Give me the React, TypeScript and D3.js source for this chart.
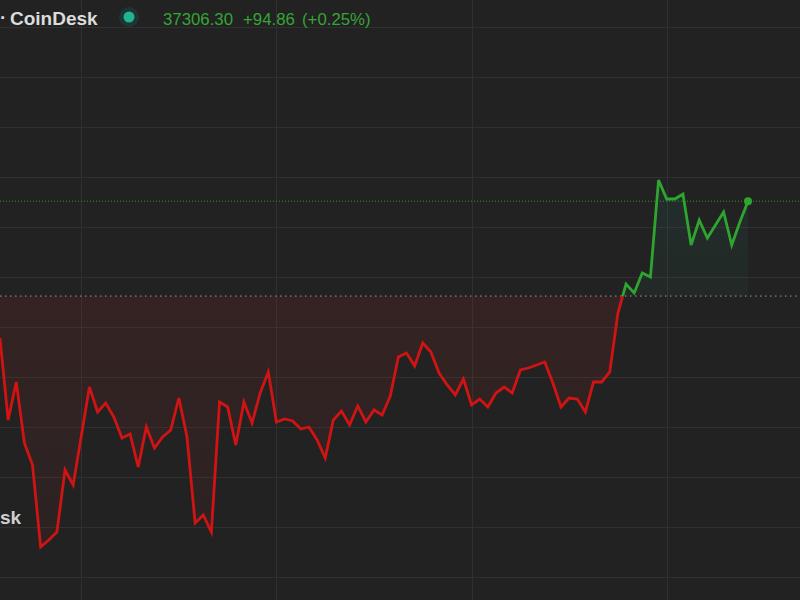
import React from "react";
import * as d3 from "d3";

const prices: number[] = [
  37169.5, 37087.5, 37125.5, 37064.5, 37042.5, 36960.5, 36967.5, 36975.5, 37037.5, 37022.5,
  37071.5, 37120.5, 37095.5, 37104.5, 37090.5, 37069.5, 37073.5, 37040.5, 37080.5, 37059.5,
  37070.5, 37077.5, 37109.5, 37070.5, 36984.5, 36992.5, 36975.5, 37105.5, 37100.5, 37062.5,
  37105.5, 37084.5, 37114.5, 37135.5, 37085.5, 37088.5, 37086.5, 37078.5, 37080.5, 37067.5,
  37049.5, 37087.5, 37096.5, 37082.5, 37101.5, 37085.5, 37097.5, 37092.5, 37111.5, 37150.5,
  37154.5, 37141.5, 37164.5, 37155.5, 37134.5, 37122.5, 37112.5, 37128.5, 37102.5, 37108.5,
  37100.5, 37114.5, 37120.5, 37114.5, 37137.5, 37139.5, 37142.5, 37145.5, 37124.5, 37100.5,
  37109.5, 37108.5, 37095.5, 37125.5, 37125.5, 37135.5, 37194.5, 37223.5, 37214.5, 37234.5,
  37230.5, 37327.5, 37308.5, 37308.5, 37313.5, 37262.5, 37287.5, 37269.5, 37282.5, 37295.5,
  37262.5, 37285.5, 37306.3,
];

const lastPrice = 37306.3;
const change = 94.86;
const changePct = 0.25;
const baseValue = lastPrice - change;

const yTicks: number[] = [37480, 37430, 37380, 37330, 37280, 37230, 37180, 37130, 37080, 37030, 36980, 36930];
const xTickIdx: number[] = [10, 34, 58, 82];

const W = 800;
const H = 600;

export default function App() {
  const x = d3.scaleLinear().domain([0, prices.length - 1]).range([0, 748]);
  const y = d3.scaleLinear().domain([37480, 36930]).range([27.5, 577.5]);
  const yb = y(baseValue);

  const line = d3
    .line<number>()
    .x((_, i) => x(i))
    .y((d) => y(d));
  const area = d3
    .area<number>()
    .x((_, i) => x(i))
    .y0(yb)
    .y1((d) => y(d));

  const lineD = line(prices) || "";
  const areaD = area(prices) || "";
  const lastX = x(prices.length - 1);
  const lastY = y(lastPrice);

  return (
    <svg
      width={W}
      height={H}
      style={{ position: "fixed", left: 0, top: 0, display: "block" }}
      fontFamily="'Liberation Sans', Arial, sans-serif"
    >
      <defs>
        <clipPath id="above">
          <rect x={0} y={0} width={W} height={yb} />
        </clipPath>
        <clipPath id="below">
          <rect x={0} y={yb} width={W} height={H - yb} />
        </clipPath>
        <linearGradient id="redFill" x1="0" y1={yb} x2="0" y2={560} gradientUnits="userSpaceOnUse">
          <stop offset="0" stopColor="rgb(190,40,40)" stopOpacity={0.12} />
          <stop offset="1" stopColor="rgb(190,40,40)" stopOpacity={0.06} />
        </linearGradient>
        <linearGradient id="greenFill" x1="0" y1={170} x2="0" y2={yb} gradientUnits="userSpaceOnUse">
          <stop offset="0" stopColor="rgb(40,170,140)" stopOpacity={0.09} />
          <stop offset="1" stopColor="rgb(40,170,140)" stopOpacity={0.05} />
        </linearGradient>
      </defs>
      <rect x={0} y={0} width={W} height={H} fill="#222222" />
      {yTicks.map((t) => (
        <line key={"h" + t} x1={0} x2={W} y1={y(t)} y2={y(t)} stroke="#303030" strokeWidth={1} />
      ))}
      {xTickIdx.map((t) => (
        <line key={"v" + t} x1={Math.round(x(t)) + 0.5} x2={Math.round(x(t)) + 0.5} y1={0} y2={H} stroke="#303030" strokeWidth={1} />
      ))}
      <path d={areaD} fill="url(#redFill)" clipPath="url(#below)" />
      <path d={areaD} fill="url(#greenFill)" clipPath="url(#above)" />
      <line x1={0} x2={W} y1={yb} y2={yb} stroke="#9a9a9a" strokeWidth={1} strokeDasharray="1.5 3.5" />
      <line x1={0} x2={W} y1={lastY} y2={lastY} stroke="#2f9a2f" strokeWidth={1} strokeDasharray="1 2" />
      <path d={lineD} fill="none" stroke="#d01414" strokeWidth={2.8} strokeLinejoin="miter" clipPath="url(#below)" />
      <path d={lineD} fill="none" stroke="#2ea52e" strokeWidth={2.8} strokeLinejoin="miter" clipPath="url(#above)" />
      <circle cx={lastX} cy={lastY} r={4} fill="#2ea52e" />
      <text x={0} y={524} fontSize={19} fontWeight={700} fill="#cfcfcf">sk</text>
      <text x={0} y={24} fontSize={19} fontWeight={600} fill="#dcdcdc">·</text>
      <text x={10} y={25} fontSize={19} fontWeight={600} fill="#dcdcdc">CoinDesk</text>
      <circle cx={129} cy={17} r={10} fill="#1f3532" />
      <circle cx={129} cy={17} r={5.5} fill="#22b394" />
      <text x={163} y={25} fontSize={16.8} fill="#35a535">
        {lastPrice.toFixed(2)}
      </text>
      <text x={243} y={25} fontSize={16.8} fill="#35a535">
        {"+" + change.toFixed(2)}
      </text>
      <text x={302} y={25} fontSize={16.8} fill="#35a535">
        {"(+" + changePct.toFixed(2) + "%)"}
      </text>
    </svg>
  );
}
